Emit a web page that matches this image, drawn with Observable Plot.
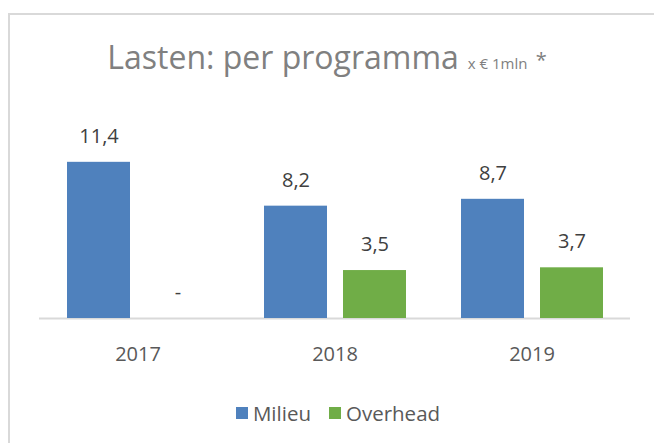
<!DOCTYPE html>
<html><head><meta charset="utf-8">
<script src="https://cdn.jsdelivr.net/npm/d3@7"></script>
<script src="https://cdn.jsdelivr.net/npm/@observablehq/plot@0.6"></script>
<style>
body{margin:0;background:#fff;font-family:"Open Sans",sans-serif;}
#wrap{position:relative;width:654px;height:443px;overflow:hidden;background:#fff;}
#frame{position:absolute;left:8px;top:13px;width:700px;height:500px;border-left:2px solid #d9d9d9;border-top:2px solid #d9d9d9;}
#title{position:absolute;left:0;width:654px;top:37px;text-align:center;color:#808080;font-size:32px;line-height:40px;white-space:nowrap;}
#title .small{font-size:15px;margin-left:5px;}
#title .star{font-size:20px;vertical-align:2px;margin-left:3px;}
#chart{position:absolute;left:0;top:0;}
#legend{position:absolute;top:399px;left:11px;width:654px;display:flex;justify-content:center;align-items:center;font-size:20.5px;color:#595959;}
#legend .item{display:flex;align-items:center;margin:0 9px;}
#legend .sw{width:12px;height:12px;margin-right:5px;}
</style>
</head><body>
<div id="wrap">
  <div id="frame"></div>
  <div id="chart"></div>
  <div id="title">Lasten: per programma<span class="small"> x € 1mln</span><span class="star"> *</span></div>
  <div id="legend"></div>
</div>
<script>
const years = ["2017", "2018", "2019"];
const series = ["Milieu", "Overhead"];
const milieu = [11.4, 8.2, 8.7];
const overhead = [0, 3.5, 3.7];
const colors = ["#4f81bd", "#70ad47"];

const data = [];
years.forEach((y, i) => {
  data.push({year: y, series: "Milieu", value: milieu[i]});
  data.push({year: y, series: "Overhead", value: overhead[i]});
});
const fmt = v => v === 0 ? "-" : v.toFixed(1).replace(".", ",");

const chart = Plot.plot({
  width: 654,
  height: 380,
  marginLeft: 38,
  marginRight: 24,
  marginTop: 44,
  marginBottom: 62,
  style: {fontFamily: "'Open Sans', sans-serif", background: "transparent"},
  fx: {domain: years, padding: 0, label: null},
  x: {domain: series, paddingInner: 0.205, paddingOuter: 0.343, axis: null},
  y: {domain: [0, 20], axis: null},
  color: {domain: series, range: colors},
  marks: [
    Plot.ruleY([0], {stroke: "#d9d9d9", strokeWidth: 2}),
    Plot.barY(data, {fx: "year", x: "series", y: "value", fill: "series"}),
    Plot.text(data, {fx: "year", x: "series", y: "value", text: d => fmt(d.value), dy: -26, fontSize: 20, fill: "#404040"}),
    Plot.axisFx({anchor: "bottom", tickSize: 0, tickPadding: 28, fontSize: 20, color: "#595959", label: null})
  ]
});
document.getElementById("chart").appendChild(chart);

const legend = document.getElementById("legend");
series.forEach((s, i) => {
  const item = document.createElement("div");
  item.className = "item";
  const sw = document.createElement("div");
  sw.className = "sw";
  sw.style.background = colors[i];
  const t = document.createElement("span");
  t.textContent = s;
  item.appendChild(sw);
  item.appendChild(t);
  legend.appendChild(item);
});
</script>
</body></html>
